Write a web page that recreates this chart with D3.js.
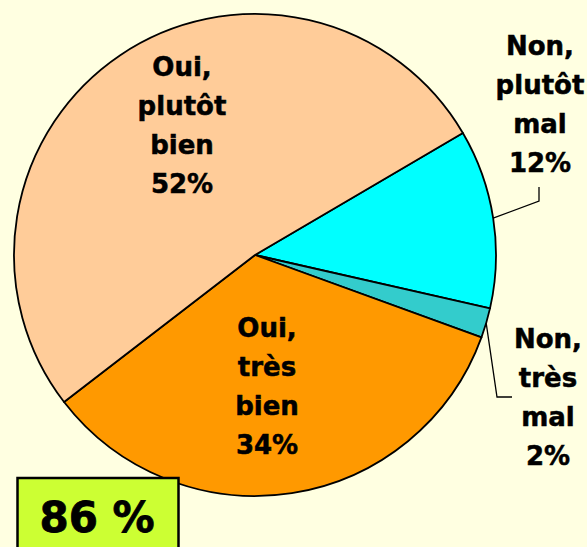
<!DOCTYPE html>
<html>
<head>
<meta charset="utf-8">
<script src="https://cdn.jsdelivr.net/npm/d3@7"></script>
<style>
  body { margin: 0; background: #FFFFE1; }
  svg { display: block; }
  text { font-family: "DejaVu Sans", Verdana, sans-serif; font-weight: bold; fill: #000; stroke: #000; stroke-width: 0.5px; }
</style>
</head>
<body>
<svg width="587" height="547"></svg>
<script>
// answers, in the order the slices are drawn (clockwise from upper right)
var labels = [["Non,", "plutôt", "mal", "12%"],
              ["Non,", "très", "mal", "2%"],
              ["Oui,", "très", "bien", "34%"],
              ["Oui,", "plutôt", "bien", "52%"]];
var values = [12, 2, 34, 52];
var colors = ["#00FFFF", "#33CCCC", "#FF9900", "#FFCC99"];
var totalOui = "86 %";

var svg = d3.select("svg"),
    width = +svg.attr("width"),
    height = +svg.attr("height"),
    cx = 255, cy = 255, radius = 241,
    lineH = 39;

svg.append("rect").attr("width", width).attr("height", height).attr("fill", "#FFFFE1");

var pie = d3.pie()
    .sort(null)
    .startAngle(59.6 * Math.PI / 180)
    .endAngle(59.6 * Math.PI / 180 + 2 * Math.PI);

var arc = d3.arc().innerRadius(0).outerRadius(radius);
var edge = d3.arc().innerRadius(radius).outerRadius(radius);

var arcs = pie(values);

var g = svg.append("g").attr("transform", "translate(" + cx + "," + cy + ")");

g.selectAll("path")
    .data(arcs)
  .enter().append("path")
    .attr("d", arc)
    .attr("fill", function(d, i) { return colors[i]; })
    .attr("stroke", "#000")
    .attr("stroke-width", 1.8)
    .attr("stroke-linejoin", "round");

// label anchors (center x, first baseline) in page coordinates
var labelPos = [[540, 55], [548, 348], [267, 337], [182, 76]];

// leader lines for the two small slices outside the pie
var leaders = [
  [[539, 201], [539, 187]],
  [[497, 397], [512, 397]]
];
leaders.forEach(function(pts, i) {
  var c = edge.centroid(arcs[i]);
  var p0 = [cx + c[0], cy + c[1]];
  svg.append("path")
      .attr("d", d3.line()([p0].concat(pts)))
      .attr("fill", "none")
      .attr("stroke", "#000")
      .attr("stroke-width", 1.3);
});

labels.forEach(function(lines, i) {
  var t = svg.append("text")
      .attr("text-anchor", "middle")
      .attr("font-size", 26);
  lines.forEach(function(s, j) {
    t.append("tspan")
        .attr("x", labelPos[i][0])
        .attr("y", labelPos[i][1] + j * lineH)
        .text(s);
  });
});

// total "oui" box
svg.append("rect")
    .attr("x", 17.5).attr("y", 478)
    .attr("width", 161).attr("height", 80)
    .attr("fill", "#CCFF33")
    .attr("stroke", "#000")
    .attr("stroke-width", 2.5);

svg.append("text")
    .attr("x", 97).attr("y", 532)
    .attr("text-anchor", "middle")
    .attr("font-size", 42)
    .style("stroke-width", "0.8px")
    .text(totalOui);
</script>
</body>
</html>
